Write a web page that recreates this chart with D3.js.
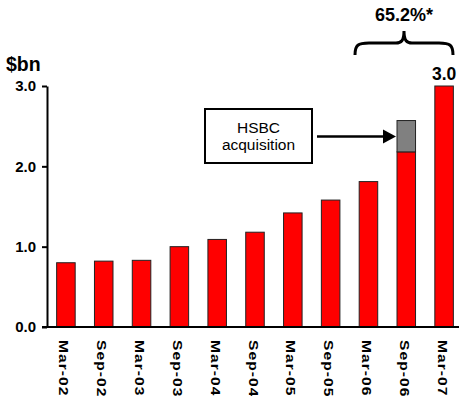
<!DOCTYPE html>
<html>
<head>
<meta charset="utf-8">
<script src="https://cdn.jsdelivr.net/npm/d3@7"></script>
<style>
  html, body { margin: 0; padding: 0; background: #fff; }
  svg { display: block; font-family: Arial, "Liberation Sans", sans-serif; }
</style>
</head>
<body>
<svg id="chart" width="459" height="396"></svg>
<script>
// ---- data ----
const categories = ["Mar-02","Sep-02","Mar-03","Sep-03","Mar-04","Sep-04","Mar-05","Sep-05","Mar-06","Sep-06","Mar-07"];
const baseValues = [0.80, 0.82, 0.83, 1.00, 1.09, 1.18, 1.42, 1.58, 1.81, 2.18, 3.00];
const acquisitionValues = [0, 0, 0, 0, 0, 0, 0, 0, 0, 0.39, 0];
const yTicks = [0, 1, 2, 3];
const unitLabel = "$bn";
const lastValueLabel = "3.0";
const growthLabel = "65.2%*";
const calloutLines = ["HSBC", "acquisition"];

// ---- layout ----
const svg = d3.select("#chart");
const x = d3.scaleBand().domain(categories).range([47, 463]).paddingInner(0.51).paddingOuter(0.255);
const y = d3.scaleLinear().domain([0, 3]).range([327, 86]);

// bars (base)
svg.append("g").selectAll("rect.base").data(categories).join("rect")
  .attr("x", d => x(d))
  .attr("y", (d, i) => y(baseValues[i]))
  .attr("width", x.bandwidth())
  .attr("height", (d, i) => y(0) - y(baseValues[i]))
  .attr("fill", "#ff0000")
  .attr("stroke", "#222")
  .attr("stroke-width", 1);

// acquisition stack
svg.append("g").selectAll("rect.acq").data(categories.filter((d, i) => acquisitionValues[i] > 0)).join("rect")
  .attr("x", d => x(d))
  .attr("y", d => { const i = categories.indexOf(d); return y(baseValues[i] + acquisitionValues[i]); })
  .attr("width", x.bandwidth())
  .attr("height", d => { const i = categories.indexOf(d); return y(baseValues[i]) - y(baseValues[i] + acquisitionValues[i]); })
  .attr("fill", "#808080")
  .attr("stroke", "#222")
  .attr("stroke-width", 1);

// y axis
const yAxis = svg.append("g").attr("transform", "translate(47,0)")
  .call(d3.axisLeft(y).tickValues(yTicks).tickFormat(d3.format(".1f")).tickSize(5).tickSizeOuter(0).tickPadding(6));
yAxis.select(".domain").attr("stroke", "#000").attr("stroke-width", 2);
yAxis.selectAll(".tick line").attr("stroke", "#000").attr("stroke-width", 2);
yAxis.selectAll(".tick text").attr("font-size", 15).attr("font-weight", "bold").attr("fill", "#000")
  .attr("font-family", "Arial, 'Liberation Sans', sans-serif");

// x axis
const xAxis = svg.append("g").attr("transform", `translate(0,${y(0)})`)
  .call(d3.axisBottom(x).tickSize(0).tickFormat(""));
xAxis.select(".domain").remove();
svg.append("line").attr("x1", 42).attr("x2", 459).attr("y1", y(0)).attr("y2", y(0))
  .attr("stroke", "#000").attr("stroke-width", 2);

// x labels, rotated
svg.append("g").selectAll("text").data(categories).join("text")
  .attr("transform", d => `translate(${x(d) + x.bandwidth() / 2 - 6.5},340) rotate(90) scale(1.3,1)`)
  .attr("font-size", 12)
  .attr("font-weight", "bold")
  .attr("letter-spacing", "0.8px")
  .attr("fill", "#000")
  .text(d => d);

// unit label
svg.append("text").attr("x", 6).attr("y", 71).attr("font-size", 19.5).attr("font-weight", "bold").text(unitLabel);

// last value label
const lastCat = categories[categories.length - 1];
svg.append("text").attr("x", x(lastCat) + x.bandwidth() / 2).attr("y", 80)
  .attr("text-anchor", "middle").attr("font-size", 17.5).attr("font-weight", "bold").text(lastValueLabel);

// brace spanning Mar-06 .. Mar-07
const bx0 = 355, bx1 = 453, bm = (bx0 + bx1) / 2;
const braceY = 43, tipY = 31, endY = 55;
svg.append("path")
  .attr("d", `M${bx0},${endY} C${bx0},${braceY + 2} ${bx0 + 3},${braceY} ${bx0 + 14},${braceY}
              L${bm - 8},${braceY} C${bm - 3},${braceY} ${bm},${braceY - 2} ${bm},${tipY}
              C${bm},${braceY - 2} ${bm + 3},${braceY} ${bm + 8},${braceY}
              L${bx1 - 14},${braceY} C${bx1 - 3},${braceY} ${bx1},${braceY + 2} ${bx1},${endY}`)
  .attr("fill", "none").attr("stroke", "#000").attr("stroke-width", 3);
svg.append("text").attr("x", bm).attr("y", 21).attr("text-anchor", "middle")
  .attr("font-size", 18).attr("font-weight", "bold").text(growthLabel);

// callout box
svg.append("rect").attr("x", 205).attr("y", 109).attr("width", 107).attr("height", 54)
  .attr("fill", "#fff").attr("stroke", "#000").attr("stroke-width", 2);
svg.append("text").attr("x", 258.5).attr("y", 133).attr("text-anchor", "middle").attr("font-size", 15.5).text(calloutLines[0]);
svg.append("text").attr("x", 258.5).attr("y", 150).attr("text-anchor", "middle").attr("font-size", 15.5).text(calloutLines[1]);

// arrow to acquisition segment
const acqCat = categories[acquisitionValues.findIndex(v => v > 0)];
const ax1 = x(acqCat) - 1, ay = 136.5;
svg.append("line").attr("x1", 317).attr("x2", ax1 - 10).attr("y1", ay).attr("y2", ay)
  .attr("stroke", "#000").attr("stroke-width", 2.5);
svg.append("path").attr("d", `M${ax1},${ay} L${ax1 - 13},${ay - 7} L${ax1 - 13},${ay + 7} Z`).attr("fill", "#000");
</script>
</body>
</html>
